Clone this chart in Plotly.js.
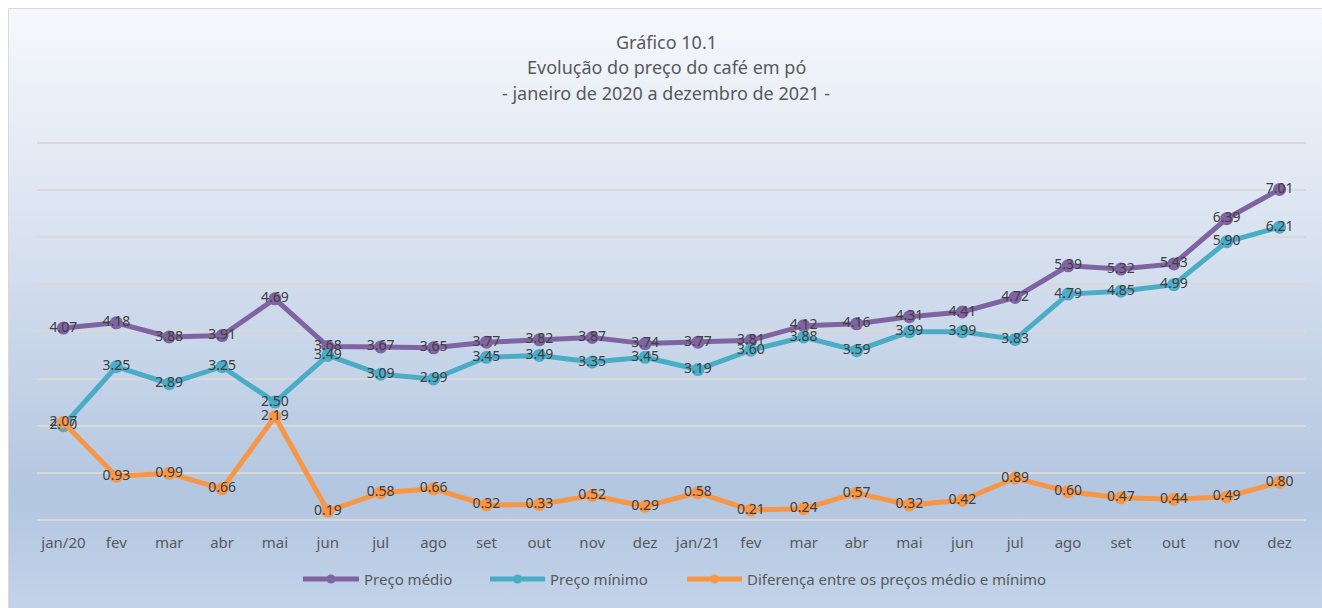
<!DOCTYPE html>
<html>
<head>
<meta charset="utf-8">
<script src="https://cdn.plot.ly/plotly-3.0.1.min.js"></script>
<style>
  html, body { margin: 0; padding: 0; background: #ffffff; width: 1322px; height: 608px; overflow: hidden; }
  #frame { position: absolute; left: 8px; top: 8px; width: 1320px; height: 606px; border: 1px solid #d9d9d9;
    background: linear-gradient(to bottom, #f6f8fc 0%, #dfe7f3 30%, #b3c6e0 80%, #c3d4ea 100%); }
  #chart { position: absolute; left: 0; top: 0; width: 1313px; height: 599px; }
</style>
</head>
<body>
<div id="frame"><div id="chart"></div></div>
<script>
const categories = ["jan/20","fev","mar","abr","mai","jun","jul","ago","set","out","nov","dez",
                    "jan/21","fev ","mar ","abr ","mai ","jun ","jul ","ago ","set ","out ","nov ","dez "];
const tickLabels = ["jan/20","fev","mar","abr","mai","jun","jul","ago","set","out","nov","dez",
                    "jan/21","fev","mar","abr","mai","jun","jul","ago","set","out","nov","dez"];
const precoMedio = [4.07,4.18,3.88,3.91,4.69,3.68,3.67,3.65,3.77,3.82,3.87,3.74,
                    3.77,3.81,4.12,4.16,4.31,4.41,4.72,5.39,5.32,5.43,6.39,7.01];
const precoMinimo = [2.00,3.25,2.89,3.25,2.50,3.49,3.09,2.99,3.45,3.49,3.35,3.45,
                     3.19,3.60,3.88,3.59,3.99,3.99,3.83,4.79,4.85,4.99,5.90,6.21];
const diferenca = [2.07,0.93,0.99,0.66,2.19,0.19,0.58,0.66,0.32,0.33,0.52,0.29,
                   0.58,0.21,0.24,0.57,0.32,0.42,0.89,0.60,0.47,0.44,0.49,0.80];
const seriesNames = ["Preço médio","Preço mínimo","Diferença entre os preços médio e mínimo"];
const titleLines = ["Gráfico 10.1","Evolução do preço do café em pó","- janeiro de 2020 a dezembro de 2021 -"];

const colors = ["#8064a2","#4bacc6","#f79646"];
const FONT = "'Noto Sans', 'Open Sans', sans-serif";

function trace(y, i) {
  return {
    type: "scatter", mode: "lines+markers+text",
    x: categories, y: y, name: seriesNames[i],
    line: { color: colors[i], width: 5 },
    marker: { color: colors[i], size: 13 },
    text: y.map(v => v.toFixed(2)),
    textposition: "middle center",
    textfont: { family: FONT, size: 14, color: "#404040" },
    cliponaxis: false,
    showlegend: false,
    hoverinfo: "x+y"
  };
}

const data = [trace(precoMedio,0), trace(precoMinimo,1), trace(diferenca,2)];

// plot area in page pixels: x 37..1306, y 138..520 (value 8 at y=143)
const PLOT_H = 382;
const px = p => (p - 37) / 1269;
const py = p => (520 - p) / PLOT_H;

const titleY = [42, 67, 93];
const annotations = titleLines.map((t, i) => ({
  text: t, xref: "paper", yref: "paper", x: px(666), y: py(titleY[i]),
  xanchor: "center", yanchor: "middle", showarrow: false,
  font: { family: FONT, size: 18, color: "#595959" }
}));

// custom legend (line sample with marker + label)
const legendLineX = [[303, 359], [490, 545], [687, 742]];
const legendY = 579;
const shapes = [];
legendLineX.forEach((lx, i) => {
  shapes.push({ type: "line", xref: "paper", yref: "paper",
    x0: px(lx[0]), x1: px(lx[1]), y0: py(legendY), y1: py(legendY),
    line: { color: colors[i], width: 5 } });
  const cx = (lx[0] + lx[1]) / 2;
  shapes.push({ type: "circle", xref: "paper", yref: "paper",
    x0: px(cx - 4.5), x1: px(cx + 4.5), y0: py(legendY + 4.5), y1: py(legendY - 4.5),
    fillcolor: colors[i], line: { width: 0 } });
  annotations.push({ text: seriesNames[i], xref: "paper", yref: "paper",
    x: px(lx[1] + 3), y: py(legendY), xanchor: "left", yanchor: "middle", showarrow: false,
    font: { family: FONT, size: 15, color: "#595959" } });
});

const layout = {
  width: 1313, height: 599,
  margin: { l: 28, r: 16, t: 129, b: 88 },
  paper_bgcolor: "rgba(0,0,0,0)",
  plot_bgcolor: "rgba(0,0,0,0)",
  showlegend: false,
  xaxis: {
    type: "category", tickmode: "array", tickvals: categories, ticktext: tickLabels,
    range: [-0.5, 23.5], autorange: false,
    showgrid: false, zeroline: false, showline: false, ticks: "",
    tickfont: { family: FONT, size: 15, color: "#595959" },
    ticklabelstandoff: 12, fixedrange: true
  },
  yaxis: {
    range: [0, 8.1], autorange: false, tick0: 0, dtick: 1, showticklabels: false, ticks: "",
    showgrid: true, gridcolor: "#d9d9d9", gridwidth: 2,
    zeroline: true, zerolinecolor: "#d9d9d9", zerolinewidth: 2, showline: false,
    fixedrange: true
  },
  shapes: shapes,
  annotations: annotations
};

Plotly.newPlot("chart", data, layout, { displayModeBar: false, staticPlot: true });
</script>
</body>
</html>
